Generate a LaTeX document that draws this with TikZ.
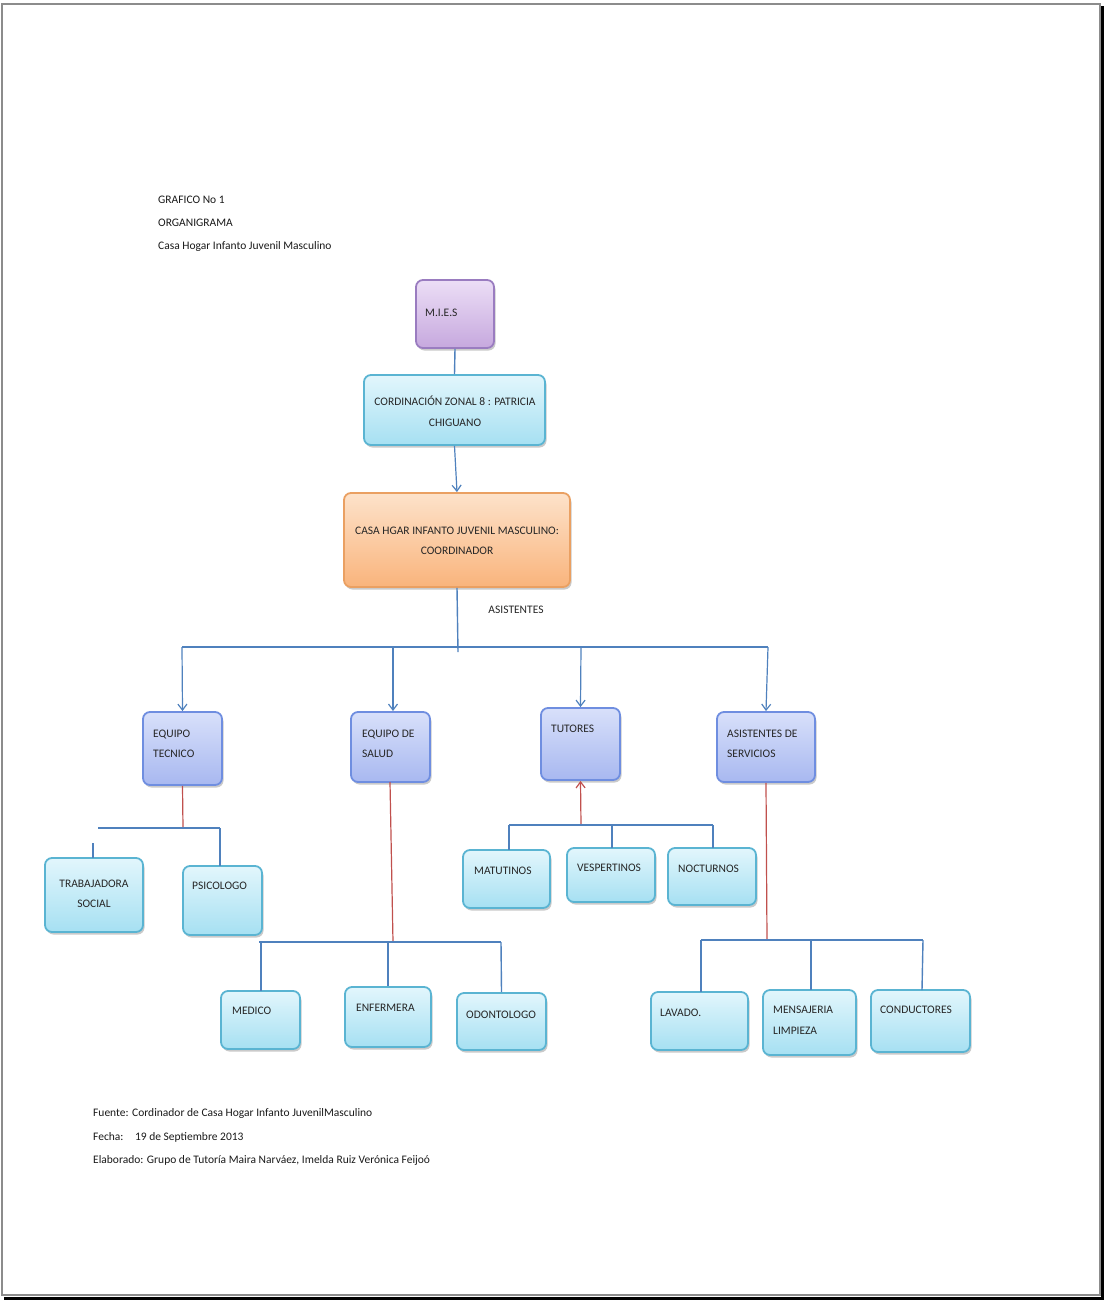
\documentclass[tikz,border=0pt]{standalone}
\usepackage{fontspec}
\setmainfont{Carlito}
\usetikzlibrary{arrows.meta,shadows}
\definecolor{lnblue}{HTML}{4F81BD}
\definecolor{lnred}{HTML}{C0504D}
\definecolor{cyTop}{HTML}{E2F6FC}
\definecolor{cyBot}{HTML}{A6E0F2}
\definecolor{cyDraw}{HTML}{5AB4D2}
\definecolor{blTop}{HTML}{D8E0FA}
\definecolor{blBot}{HTML}{A8B8F0}
\definecolor{blDraw}{HTML}{6F8EE0}
\definecolor{puTop}{HTML}{ECDEF6}
\definecolor{puBot}{HTML}{C6A8DE}
\definecolor{puDraw}{HTML}{9A7CC0}
\definecolor{orTop}{HTML}{FDE2CA}
\definecolor{orBot}{HTML}{F9B47C}
\definecolor{orDraw}{HTML}{EAA062}
\begin{document}
\begin{tikzpicture}[x=1pt,y=-1pt,
  basebox/.style={rounded corners=7pt, line width=1.8pt, inner sep=0pt,
     drop shadow={shadow xshift=1.5pt, shadow yshift=-2.5pt, opacity=0.35, fill=black!60}},
  cyanbox/.style={basebox, draw=cyDraw, top color=cyTop, bottom color=cyBot},
  bluebox/.style={basebox, draw=blDraw, top color=blTop, bottom color=blBot},
  purplebox/.style={basebox, draw=puDraw, top color=puTop, bottom color=puBot},
  orangebox/.style={basebox, draw=orDraw, top color=orTop, bottom color=orBot},
  btxt/.style={font=\fontsize{11.5}{13.5}\selectfont, text=black!85, inner sep=0pt, align=left},
  htxt/.style={font=\fontsize{11.5}{13.5}\selectfont, text=black!90, inner sep=0pt, anchor=west},
  bl/.style={draw=lnblue, line width=1.8pt},
  rl/.style={draw=lnred, line width=1.2pt},
  arr/.style={-{Straight Barb[length=6pt,width=9pt,line width=1.2pt]}}
]
\useasboundingbox (0,0) rectangle (1105,1301);
% frame
\draw[black!45, line width=1.6pt] (2,4) rectangle (1100,1295);
\draw[black, line width=3.5pt] (1102.5,6) -- (1102.5,1298.5) -- (4,1298.5);

% header
\node[htxt] (h1) at (158,200) {GRAFICO No 1};
\node[htxt] (h2) at (158,223) {ORGANIGRAMA};
\node[htxt] (h3) at (158,246) {Casa Hogar Infanto Juvenil Masculino};

% top nodes
\node[purplebox, minimum width=78pt, minimum height=68pt] (mies) at (455,314) {};
\node[btxt, anchor=west] (miest) at (425,313) {M.I.E.S};
\node[cyanbox, minimum width=181pt, minimum height=70pt] (cord) at (454.5,410) {};
\node[btxt, align=center] (cordt) at (455,411) {CORDINACIÓN ZONAL 8 : PATRICIA\\[7pt]CHIGUANO};
\node[orangebox, minimum width=226pt, minimum height=94pt] (casa) at (457,540) {};
\node[btxt, align=center] (casat) at (457,541) {CASA HGAR INFANTO JUVENIL MASCULINO:\\[7pt]COORDINADOR};
\node[btxt] (asist) at (516,610) {ASISTENTES};

% second level
\node[bluebox, minimum width=79pt, minimum height=73pt] (eqt) at (182.5,748.5) {};
\node[btxt, anchor=west] (eqtt) at (153,744) {EQUIPO\\[7pt]TECNICO};
\node[bluebox, minimum width=79pt, minimum height=70pt] (eqs) at (390.5,747) {};
\node[btxt, anchor=west] (eqst) at (362,744) {EQUIPO DE\\[7pt]SALUD};
\node[bluebox, minimum width=79pt, minimum height=72pt] (tut) at (580.5,744) {};
\node[btxt, anchor=west] (tutt) at (551,729) {TUTORES};
\node[bluebox, minimum width=98pt, minimum height=70pt] (asis) at (766,747) {};
\node[btxt, anchor=west] (asist2) at (727,744) {ASISTENTES DE\\[7pt]SERVICIOS};

% third level
\node[cyanbox, minimum width=98pt, minimum height=74pt] (trab) at (94,895) {};
\node[btxt, align=center] (trabt) at (94,894) {TRABAJADORA\\[7pt]SOCIAL};
\node[cyanbox, minimum width=79pt, minimum height=69pt] (psic) at (222.5,900.5) {};
\node[btxt, anchor=west] (psict) at (192,886) {PSICOLOGO};
\node[cyanbox, minimum width=87pt, minimum height=58pt] (mat) at (506.5,879) {};
\node[btxt, anchor=west] (matt) at (474,871) {MATUTINOS};
\node[cyanbox, minimum width=88pt, minimum height=54pt] (vesp) at (611,875) {};
\node[btxt, anchor=west] (vespt) at (577,868) {VESPERTINOS};
\node[cyanbox, minimum width=88pt, minimum height=57pt] (noct) at (712,876.5) {};
\node[btxt, anchor=west] (noctt) at (678,869) {NOCTURNOS};
\node[cyanbox, minimum width=79pt, minimum height=58pt] (med) at (260.5,1020) {};
\node[btxt, anchor=west] (medt) at (232,1011) {MEDICO};
\node[cyanbox, minimum width=86pt, minimum height=60pt] (enf) at (388,1017) {};
\node[btxt, anchor=west] (enft) at (356,1008) {ENFERMERA};
\node[cyanbox, minimum width=89pt, minimum height=57pt] (odo) at (501.5,1021.5) {};
\node[btxt, anchor=west] (odot) at (466,1015) {ODONTOLOGO};
\node[cyanbox, minimum width=97pt, minimum height=58pt] (lav) at (699.5,1021) {};
\node[btxt, anchor=west] (lavt) at (660,1013) {LAVADO.};
\node[cyanbox, minimum width=93pt, minimum height=65pt] (mens) at (809.5,1022.5) {};
\node[btxt, anchor=west] (menst) at (773,1020.5) {MENSAJERIA\\[7pt]LIMPIEZA};
\node[cyanbox, minimum width=99pt, minimum height=62pt] (cond) at (920.5,1021) {};
\node[btxt, anchor=west] (condt) at (880,1010) {CONDUCTORES};

% footer
\node[htxt] (f1) at (93,1113) {Fuente: Cordinador de Casa Hogar Infanto JuvenilMasculino};
\node[htxt] (f2) at (93,1137) {Fecha:\quad 19 de Septiembre 2013};
\node[htxt] (f3) at (93,1160) {Elaborado: Grupo de Tutoría Maira Narváez, Imelda Ruiz Verónica Feijoó};

% top connectors
\draw[bl, line width=1.4pt] (mies.south) -- (cord.north);
\draw[bl, line width=1.2pt, arr] (cord.south) -- (casa.north);
\coordinate (bus0) at (458,652);
\coordinate (busL) at (182,647);
\coordinate (busR) at (768,647);
\draw[bl, line width=1.4pt] (casa.south) -- (bus0);
\draw[bl] (busL) -- (busR);
\draw[bl, line width=1.2pt, arr] (busL) -- (eqt.north);
\draw[bl, line width=1.2pt, arr] (393,647) -- (393,711);
\draw[bl, line width=1.2pt, arr] (581,647) -- (tut.north);
\draw[bl, line width=1.2pt, arr] (busR) -- (asis.north);

% equipo tecnico
\coordinate (t1) at (183,828);
\coordinate (t1l) at (98,828);
\coordinate (t1r) at (220,828);
\draw[rl] (eqt.south) -- (t1);
\draw[bl] (t1l) -- (t1r);
\draw[bl, line width=1.4pt] (t1r) -- (220,866);
\draw[bl, line width=1.4pt] (93,843) -- (93,858);

% equipo de salud
\coordinate (s1) at (393,942);
\coordinate (s1l) at (259,942);
\coordinate (s1r) at (501,942);
\draw[rl] (390,782) -- (s1);
\draw[bl] (s1l) -- (s1r);
\draw[bl, line width=1.4pt] (261,942) -- (261,991);
\draw[bl, line width=1.4pt] (388,942) -- (enf.north);
\draw[bl, line width=1.4pt] (s1r) -- (odo.north);

% tutores
\coordinate (u1) at (581,825);
\coordinate (u1l) at (509,825);
\coordinate (u1r) at (713,825);
\draw[rl, arr] (u1) -- (tut.south);
\draw[bl] (u1l) -- (u1r);
\draw[bl, line width=1.4pt] (u1l) -- (509,850);
\draw[bl, line width=1.4pt] (612,825) -- (612,848);
\draw[bl, line width=1.4pt] (u1r) -- (713,848);

% asistentes de servicios
\coordinate (a1) at (767,940);
\coordinate (a1l) at (701,940);
\coordinate (a1r) at (923,940);
\draw[rl] (asis.south) -- (a1);
\draw[bl] (a1l) -- (a1r);
\draw[bl, line width=1.4pt] (a1l) -- (701,992);
\draw[bl, line width=1.4pt] (811,940) -- (811,990);
\draw[bl, line width=1.4pt] (a1r) -- (922,990);
\end{tikzpicture}
\end{document}
